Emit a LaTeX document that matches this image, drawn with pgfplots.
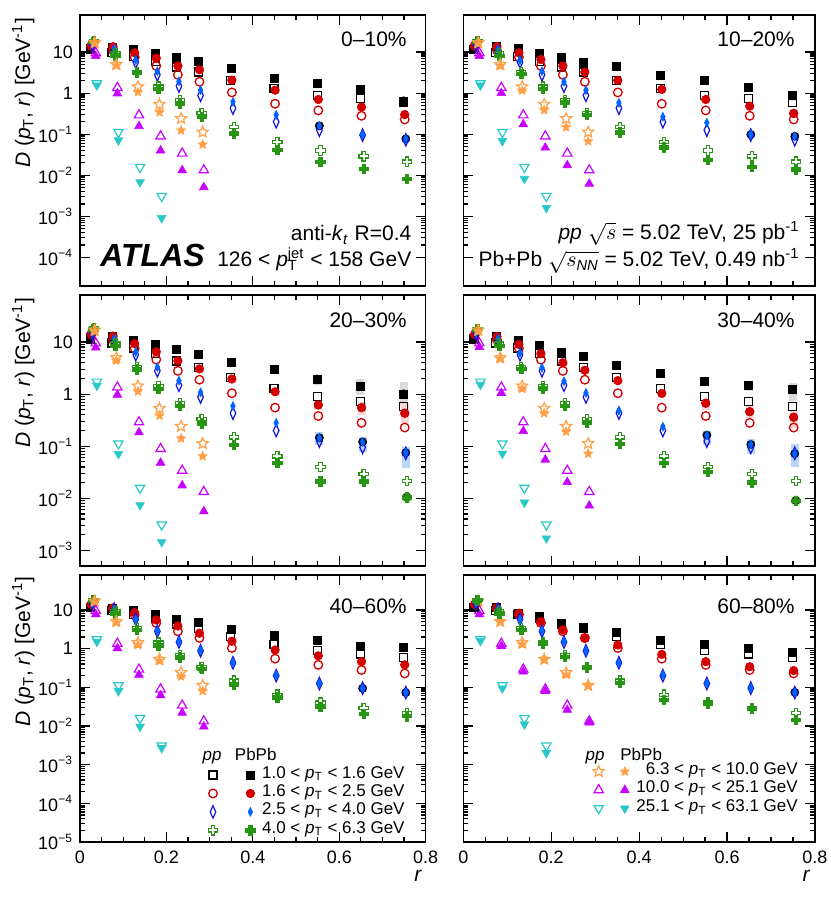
\documentclass[border=0pt]{standalone}
\usepackage{fontspec}
\setmainfont{Liberation Sans}
\usepackage{pgfplots}
\usepackage{pgfplotstable}
\pgfplotsset{compat=1.18}
\pgfplotsset{/pgf/number format/assume math mode=true}

\definecolor{cred}{RGB}{210,0,0}
\definecolor{cblueo}{RGB}{20,20,220}
\definecolor{cbluef}{RGB}{0,100,255}
\definecolor{cgreen}{RGB}{40,150,20}
\definecolor{corange}{RGB}{255,160,70}
\definecolor{cmag}{RGB}{200,0,255}
\definecolor{ccyan}{RGB}{40,200,200}
\definecolor{sgray}{RGB}{218,218,218}
\definecolor{spink}{RGB}{250,212,212}
\definecolor{sblue}{RGB}{182,214,250}
\definecolor{sgreen}{RGB}{214,244,208}

\def\pluspath{%
 \pgfpathmoveto{\pgfqpoint{-0.36\pgfplotmarksize}{\pgfplotmarksize}}%
 \pgfpathlineto{\pgfqpoint{0.36\pgfplotmarksize}{\pgfplotmarksize}}%
 \pgfpathlineto{\pgfqpoint{0.36\pgfplotmarksize}{0.36\pgfplotmarksize}}%
 \pgfpathlineto{\pgfqpoint{\pgfplotmarksize}{0.36\pgfplotmarksize}}%
 \pgfpathlineto{\pgfqpoint{\pgfplotmarksize}{-0.36\pgfplotmarksize}}%
 \pgfpathlineto{\pgfqpoint{0.36\pgfplotmarksize}{-0.36\pgfplotmarksize}}%
 \pgfpathlineto{\pgfqpoint{0.36\pgfplotmarksize}{-\pgfplotmarksize}}%
 \pgfpathlineto{\pgfqpoint{-0.36\pgfplotmarksize}{-\pgfplotmarksize}}%
 \pgfpathlineto{\pgfqpoint{-0.36\pgfplotmarksize}{-0.36\pgfplotmarksize}}%
 \pgfpathlineto{\pgfqpoint{-\pgfplotmarksize}{-0.36\pgfplotmarksize}}%
 \pgfpathlineto{\pgfqpoint{-\pgfplotmarksize}{0.36\pgfplotmarksize}}%
 \pgfpathlineto{\pgfqpoint{-0.36\pgfplotmarksize}{0.36\pgfplotmarksize}}%
 \pgfpathclose}
\def\starpath{%
 \pgfpathmoveto{\pgfqpointpolar{90}{\pgfplotmarksize}}%
 \pgfpathlineto{\pgfqpointpolar{126}{0.45\pgfplotmarksize}}%
 \pgfpathlineto{\pgfqpointpolar{162}{\pgfplotmarksize}}%
 \pgfpathlineto{\pgfqpointpolar{198}{0.45\pgfplotmarksize}}%
 \pgfpathlineto{\pgfqpointpolar{234}{\pgfplotmarksize}}%
 \pgfpathlineto{\pgfqpointpolar{270}{0.45\pgfplotmarksize}}%
 \pgfpathlineto{\pgfqpointpolar{306}{\pgfplotmarksize}}%
 \pgfpathlineto{\pgfqpointpolar{342}{0.45\pgfplotmarksize}}%
 \pgfpathlineto{\pgfqpointpolar{18}{\pgfplotmarksize}}%
 \pgfpathlineto{\pgfqpointpolar{54}{0.45\pgfplotmarksize}}%
 \pgfpathclose}
\pgfdeclareplotmark{plusc}{\pluspath\pgfusepathqstroke}
\pgfdeclareplotmark{plusc*}{\pluspath\pgfusepathqfillstroke}
\pgfdeclareplotmark{starc}{\starpath\pgfusepathqstroke}
\pgfdeclareplotmark{starc*}{\starpath\pgfusepathqfillstroke}

\pgfplotsset{
 mypp1/.style={only marks, mark=square, black, mark size=2.0pt, line width=0.65pt},
 mypb1/.style={only marks, mark=square*, black, mark size=2.0pt, line width=0.3pt},
 mypp2/.style={only marks, mark=o, cred, mark size=2.15pt, line width=0.65pt},
 mypb2/.style={only marks, mark=*, cred, mark size=2.15pt, line width=0.3pt},
 mypp3/.style={only marks, mark=diamond, cblueo, mark size=3.1pt, line width=0.6pt, mark options={xscale=0.6}},
 mypb3/.style={only marks, mark=diamond*, cbluef, mark size=2.2pt, line width=0.3pt, mark options={xscale=0.7}},
 mypp4/.style={only marks, mark=plusc, cgreen, mark size=2.35pt, line width=0.6pt},
 mypb4/.style={only marks, mark=plusc*, cgreen, mark size=2.35pt, line width=0.3pt},
 mypp5/.style={only marks, mark=starc, corange, mark size=2.9pt, line width=0.6pt},
 mypb5/.style={only marks, mark=starc*, corange, mark size=2.4pt, line width=0.3pt},
 mypp6/.style={only marks, mark=triangle, cmag, mark size=2.7pt, line width=0.6pt},
 mypb6/.style={only marks, mark=triangle*, cmag, mark size=2.5pt, line width=0.3pt},
 mypp7/.style={only marks, mark=triangle, ccyan, mark size=2.7pt, line width=0.6pt, mark options={rotate=180}},
 mypb7/.style={only marks, mark=triangle*, ccyan, mark size=2.5pt, line width=0.3pt, mark options={rotate=180}},
 sysbox/.style={forget plot, only marks, mark=none,
  error bars/.cd, y dir=both, y explicit, error mark=none,
  error bar style={draw=#1, line width=4pt, solid}},
}

% pp reference (same in every panel)
\pgfplotstableread{
r     k1    k2    k3    k4     k5    k6     k7
0.025 11.5  14    14.5  17.5   17    9.5    1.72
0.075 9.6   11    10.5  9.3    5.0   1.35   0.112
0.125 7.7   7.5   5.7   3.3    1.43  0.29   0.0158
0.175 6.0   4.6   2.8   1.43   0.53  0.089  0.0031
0.225 4.3   2.8   1.48  0.67   0.24  0.034  nan
0.275 3.25  1.89  0.88  0.33   0.112 0.0133 nan
0.35  2.07  1.04  0.43  0.148  nan   nan    nan
0.45  1.28  0.55  0.20  0.064  nan   nan    nan
0.55  0.89  0.38  0.125 0.040  nan   nan    nan
0.65  0.73  0.28  0.095 0.029  nan   nan    nan
0.75  0.58  0.228 0.073 0.0214 nan   nan    nan
}\pptab
% Pb+Pb 0-10%
\pgfplotstableread{
r     k1    k2    k3    k4     k5    k6     k7
0.025 12.5  15    15.5  18.5   16    8.0    1.54
0.075 13.2  13.5  12    8.3    4.7   0.98   0.071
0.125 11.6  9.6   6.4   3.1    1.06  0.157  0.0068
0.175 9.3   7.1   3.4   1.28   0.34  0.040  0.00091
0.225 7.3   4.6   1.93  0.56   0.123 0.0132 nan
0.275 5.9   3.7   1.18  0.265  0.056 0.0051 nan
0.35  4.1   2.07  0.615 0.104  nan   nan    nan
0.45  2.28  1.18  0.295 0.041  nan   nan    nan
0.55  1.72  0.70  0.16  0.021  nan   nan    nan
0.65  1.23  0.456 0.097 0.0145 nan   nan    nan
0.75  0.65  0.30  0.077 0.0081 nan   nan    nan
}\tabA
% Pb+Pb 10-20%
\pgfplotstableread{
r     k1    k2    k3    k4     k5    k6     k7
0.025 12.5  15    15.5  18.5   16    8.0    1.54
0.075 13.5  13.5  11.6  8.0    4.6   1.0    0.068
0.125 12.1  9.6   6.3   3.0    1.16  0.174  0.0082
0.175 9.6   6.6   3.4   1.28   0.385 0.047  0.0016
0.225 7.4   4.6   1.89  0.60   0.148 0.0174 nan
0.275 5.5   3.25  1.18  0.30   0.067 0.0062 nan
0.35  4.4   2.04  0.58  0.11   nan   nan    nan
0.45  2.7   1.23  0.265 0.048  nan   nan    nan
0.55  2.07  0.70  0.19  0.024  nan   nan    nan
0.65  1.37  0.48  0.098 0.0158 nan   nan    nan
0.75  0.88  0.32  0.089 0.0138 nan   nan    nan
}\tabB
% Pb+Pb 20-30%
\pgfplotstableread{
r     k1    k2    k3    k4     k5    k6     k7
0.025 12.5  15    15.5  18.5   16    7.8    1.45
0.075 13    13    11.6  8.4    4.4   0.97   0.071
0.125 11    9.3   6.4   3.0    1.13  0.184  0.0074
0.175 8.9   6.5   3.3   1.26   0.386 0.048  0.00144
0.225 7.2   4.35  1.81  0.59   0.141 0.0176 nan
0.275 5.8   3.05  1.08  0.275  0.064 0.0056 nan
0.35  4.1   1.95  0.59  0.107  nan   nan    nan
0.45  2.96  1.11  0.28  0.048  nan   nan    nan
0.55  1.95  0.62  0.145 0.021  nan   nan    nan
0.65  1.41  0.55  0.121 0.021  nan   nan    nan
0.75  1.01  0.43  0.075 0.0105 nan   nan    nan
}\tabC
% Pb+Pb 30-40%
\pgfplotstableread{
r     k1    k2    k3    k4     k5    k6     k7
0.025 12    14.5  15    18     16    8.0    1.51
0.075 12.7  12.7  11.6  8.4    4.75  1.05   0.072
0.125 11    9.0   6.2   3.1    1.27  0.195  0.0083
0.175 8.6   6.0   3.2   1.29   0.43  0.055  0.0017
0.225 6.4   4.0   1.76  0.59   0.19  0.0204 nan
0.275 5.36  2.87  1.05  0.28   0.072 0.0072 nan
0.35  3.64  1.81  0.48  0.11   nan   nan    nan
0.45  2.55  1.03  0.237 0.048  nan   nan    nan
0.55  1.76  0.67  0.163 0.032  nan   nan    nan
0.65  1.45  0.46  0.108 0.0204 nan   nan    nan
0.75  1.21  0.36  0.072 0.009  nan   nan    nan
}\tabD
% Pb+Pb 40-60%
\pgfplotstableread{
r     k1    k2    k3    k4     k5    k6     k7
0.025 12    14    15    18     16    7.7    1.51
0.075 11    11    10.4  8.2    4.7   1.02   0.08
0.125 10    8.5   5.7   3.04   1.24  0.21   0.0096
0.175 7.9   5.5   2.9   1.22   0.48  0.062  0.0027
0.225 5.75  3.85  1.55  0.60   0.19  0.022  nan
0.275 4.7   2.5   0.92  0.30   0.08  0.0096 nan
0.35  3.24  1.55  0.435 0.12   nan   nan    nan
0.45  2.26  0.92  0.21  0.055  nan   nan    nan
0.55  1.64  0.65  0.127 0.0316 nan   nan    nan
0.65  1.17  0.46  0.094 0.0204 nan   nan    nan
0.75  1.08  0.38  0.073 0.018  nan   nan    nan
}\tabE
% Pb+Pb 60-80%
\pgfplotstableread{
r     k1    k2    k3    k4     k5    k6     k7
0.025 12    14    15    18     16    7.7    1.58
0.075 11.5  11    10.4  8.2    4.9   1.17   0.094
0.125 8.2   8.2   5.7   3.04   1.29  0.254  0.011
0.175 6.7   5.0   2.9   1.32   0.51  0.080  0.002
0.225 4.5   3.04  1.58  0.62   0.21  0.026  nan
0.275 3.56  1.85  0.89  0.32   0.108 0.0122 nan
0.35  2.6   1.24  0.42  0.132  nan   nan    nan
0.45  1.61  0.71  0.21  0.047  nan   nan    nan
0.55  1.29  0.46  0.127 0.037  nan   nan    nan
0.65  1.02  0.34  0.094 0.0276 nan   nan    nan
0.75  0.79  0.27  0.074 0.0143 nan   nan    nan
}\tabF

\newcommand\bin[2]{%
 \addplot[mypp#1] table[x expr=\thisrow{r}+0.0025*#1-0.0035, y=k#1]{\pptab};
 \addplot[mypb#1] table[x expr=\thisrow{r}+0.0025*#1-0.0035, y=k#1]{#2};
}
\newcommand\allbins[1]{\bin1{#1}\bin2{#1}\bin3{#1}\bin4{#1}\bin5{#1}\bin6{#1}\bin7{#1}}
\newcommand\allbinsR[1]{\bin5{#1}\bin6{#1}\bin7{#1}\bin1{#1}\bin2{#1}\bin3{#1}\bin4{#1}}

\newcommand\lbl{\fontsize{10.5}{12}\selectfont}
\newcommand\lgf{\fontsize{8.5}{10}\selectfont}
\newcommand\ylab{\textit{D} (\textit{p}\textsubscript{T}, \textit{r}) [GeV\textsuperscript{-1}]}
\newcommand\pT{\textit{p}\textsubscript{T}}

\pgfplotsset{
 mypanel/.style={
  scale only axis, xmin=0, xmax=0.8, ymax=80,
  xtick={0,0.2,0.4,0.6,0.8}, minor x tick num=3,
  xtick pos=both, ytick pos=both,
  major tick length=5pt, minor tick length=2.5pt,
  tick style={black, line width=0.6pt},
  axis line style={line width=0.8pt},
  ticklabel style={font=\fontsize{9}{10}\selectfont},
  xticklabel style={yshift=-1pt},
  ylabel style={at={(axis description cs:-0.1446,0.99)}, anchor=base east, inner sep=0pt, font=\lbl},
  xlabel style={anchor=base east, inner sep=0pt, font=\lbl},
 },
 myleftw/.style={width=172.85pt},
 myrightw/.style={width=175.85pt},
 mytoprow/.style={height=135.5pt, ymin=2e-5, ytick={1e-4,1e-3,1e-2,1e-1,1,10},
  yticklabels={10\textsuperscript{−4},10\textsuperscript{−3},10\textsuperscript{−2},10\textsuperscript{−1},1,10}, xticklabels={}},
 mymidrow/.style={height=135.5pt, ymin=5e-4, ytick={1e-3,1e-2,1e-1,1,10},
  yticklabels={10\textsuperscript{−3},10\textsuperscript{−2},10\textsuperscript{−1},1,10}, xticklabels={}},
 mybotrow/.style={height=133.5pt, ymin=1e-5, ytick={1e-5,1e-4,1e-3,1e-2,1e-1,1,10},
  yticklabels={10\textsuperscript{−5},10\textsuperscript{−4},10\textsuperscript{−3},10\textsuperscript{−2},10\textsuperscript{−1},1,10}},
 mynoy/.style={yticklabels={}},
}

\begin{document}
\begin{tikzpicture}
\path[use as bounding box] (0,0) rectangle (415pt,-455pt);

% 0-10%
\begin{semilogyaxis}[mypanel, myleftw, mytoprow, at={(40pt,-7.5pt)}, anchor=north west, ylabel={\ylab}]
\addplot[sysbox=sgray] coordinates {(0.749,0.65) += (0,0.13) -= (0,0.15)};
\addplot[sysbox=sblue] coordinates {(0.554,0.16) += (0,0.03) -= (0,0.03) (0.754,0.077) += (0,0.012) -= (0,0.012)};
\allbins{\tabA}
\node[anchor=base east, inner sep=0pt, font=\lbl] at (rel axis cs:0.946,0.883) {0–10\%};
\node[anchor=base east, inner sep=0pt, font=\lbl] at (rel axis cs:0.9595,0.167) {anti-\textit{k}\textsubscript{\textit{t}} R=0.4};
\node[anchor=base east, inner sep=0pt, font=\lbl] at (rel axis cs:0.9595,0.071) {126 < \textit{p}\rlap{\textsubscript{T}}\textsuperscript{jet} < 158 GeV};
\node[anchor=base west, inner sep=0pt, font=\fontsize{16}{18}\selectfont\bfseries\itshape] at (rel axis cs:0.058,0.071) {ATLAS};
\end{semilogyaxis}

% 10-20%
\begin{semilogyaxis}[mypanel, myrightw, mytoprow, mynoy, at={(231.65pt,-7.5pt)}, anchor=north west]
\addplot[sysbox=sgray] coordinates {(0.749,0.88) += (0,0.2) -= (0,0.22)};
\addplot[sysbox=spink] coordinates {(0.7515,0.32) += (0,0.08) -= (0,0.07)};
\addplot[sysbox=sblue] coordinates {(0.654,0.098) += (0,0.012) -= (0,0.012) (0.754,0.089) += (0,0.018) -= (0,0.015)};
\allbins{\tabB}
\node[anchor=base east, inner sep=0pt, font=\lbl] at (rel axis cs:0.943,0.883) {10–20\%};
\node[anchor=base east, inner sep=0pt, font=\lbl] at (rel axis cs:0.957,0.170) {\textit{pp} $\sqrt{s}$ = 5.02 TeV, 25 pb\textsuperscript{-1}};
\node[anchor=base east, inner sep=0pt, font=\lbl] at (rel axis cs:0.957,0.071) {Pb+Pb $\sqrt{s_{\mathit{NN}}}$ = 5.02 TeV, 0.49 nb\textsuperscript{-1}};
\end{semilogyaxis}

% 20-30%
\begin{semilogyaxis}[mypanel, myleftw, mymidrow, at={(40pt,-147.5pt)}, anchor=north west, ylabel={\ylab}]
\addplot[sysbox=sgray] coordinates {(0.549,1.95) += (0,0.42) -= (0,0.48) (0.649,1.41) += (0,0.58) -= (0,0.43) (0.749,1.01) += (0,0.69) -= (0,0.41)};
\addplot[sysbox=spink] coordinates {(0.5515,0.62) += (0,0.15) -= (0,0.12) (0.6515,0.55) += (0,0.17) -= (0,0.15) (0.7515,0.43) += (0,0.25) -= (0,0.15)};
\addplot[sysbox=sblue] coordinates {(0.554,0.145) += (0,0.045) -= (0,0.04) (0.654,0.121) += (0,0.029) -= (0,0.043) (0.754,0.075) += (0,0.023) -= (0,0.037)};
\addplot[sysbox=sgreen] coordinates {(0.7565,0.0105) += (0,0.0025) -= (0,0.0025)};
\allbins{\tabC}
\node[anchor=base east, inner sep=0pt, font=\lbl] at (rel axis cs:0.946,0.879) {20–30\%};
\end{semilogyaxis}

% 30-40%
\begin{semilogyaxis}[mypanel, myrightw, mymidrow, mynoy, at={(231.65pt,-147.5pt)}, anchor=north west]
\addplot[sysbox=sgray] coordinates {(0.649,1.45) += (0,0.31) -= (0,0.32) (0.749,1.21) += (0,0.43) -= (0,0.47)};
\addplot[sysbox=spink] coordinates {(0.5515,0.67) += (0,0.10) -= (0,0.17) (0.6515,0.46) += (0,0.16) -= (0,0.11) (0.7515,0.36) += (0,0.14) -= (0,0.14)};
\addplot[sysbox=sblue] coordinates {(0.554,0.163) += (0,0.037) -= (0,0.058) (0.654,0.108) += (0,0.032) -= (0,0.036) (0.754,0.072) += (0,0.036) -= (0,0.032)};
\addplot[sysbox=sgreen] coordinates {(0.7565,0.009) += (0,0.002) -= (0,0.0018)};
\allbins{\tabD}
\node[anchor=base east, inner sep=0pt, font=\lbl] at (rel axis cs:0.943,0.879) {30–40\%};
\end{semilogyaxis}

% 40-60%
\begin{semilogyaxis}[mypanel, myleftw, mybotrow, at={(40pt,-287.5pt)}, anchor=north west,
 ylabel={\ylab}, ylabel style={at={(axis description cs:-0.1446,0.995)}},
 xlabel={\textit{r}}, xlabel style={at={(axis description cs:0.991,-0.149)}},
 legend columns=2, legend cell align=right,
 legend image code/.code={\draw[mark repeat=2,mark phase=2,#1] plot coordinates {(0pt,0pt) (3pt,0pt) (6pt,0pt)};},
 legend style={draw=none, fill=none, inner sep=0pt, font=\lgf,
   nodes={inner sep=0.5pt, text height=5.6pt, text depth=2.6pt}, row sep=0pt,
   at={(0.943,0.008)}, anchor=south east,
   /tikz/every even column/.append style={column sep=13pt}}]
\addplot[sysbox=sgray] coordinates {(0.749,1.08) += (0,0.15) -= (0,0.15)};
\addplot[sysbox=sblue] coordinates {(0.654,0.094) += (0,0.015) -= (0,0.015) (0.754,0.073) += (0,0.012) -= (0,0.012)};
\allbins{\tabE}
\legend{\mbox{},\hspace{3pt}1.0 < \pT{} < 1.6 GeV,\mbox{},\hspace{3pt}1.6 < \pT{} < 2.5 GeV,\mbox{},\hspace{3pt}2.5 < \pT{} < 4.0 GeV,\mbox{},\hspace{3pt}4.0 < \pT{} < 6.3 GeV}
\node[anchor=base east, inner sep=0pt, font=\lbl] at (rel axis cs:0.946,0.857) {40–60\%};
\node[anchor=base, inner sep=0pt, font=\lgf] at (rel axis cs:0.382,0.307) {\textit{pp}};
\node[anchor=base west, inner sep=0pt, font=\lgf] at (rel axis cs:0.447,0.307) {PbPb};
\end{semilogyaxis}

% 60-80%
\begin{semilogyaxis}[mypanel, myrightw, mybotrow, mynoy, at={(231.65pt,-287.5pt)}, anchor=north west,
 xlabel={\textit{r}}, xlabel style={at={(axis description cs:0.988,-0.149)}},
 legend columns=2, legend cell align=right,
 legend image code/.code={\draw[mark repeat=2,mark phase=2,#1] plot coordinates {(0pt,0pt) (3pt,0pt) (6pt,0pt)};},
 legend style={draw=none, fill=none, inner sep=0pt, font=\lgf,
   nodes={inner sep=0.5pt, text height=5.6pt, text depth=2.6pt}, row sep=0pt,
   at={(0.955,0.09)}, anchor=south east,
   /tikz/every even column/.append style={column sep=7pt}}]
\addplot[sysbox=sblue] coordinates {(0.754,0.074) += (0,0.008) -= (0,0.008)};
\allbinsR{\tabF}
\legend{\mbox{},\hspace{3pt}6.3 < \pT{} < 10.0 GeV,\mbox{},\hspace{3pt}10.0 < \pT{} < 25.1 GeV,\mbox{},\hspace{3pt}25.1 < \pT{} < 63.1 GeV}
\node[anchor=base east, inner sep=0pt, font=\lbl] at (rel axis cs:0.943,0.857) {60–80\%};
\node[anchor=base, inner sep=0pt, font=\lgf] at (rel axis cs:0.3745,0.307) {\textit{pp}};
\node[anchor=base west, inner sep=0pt, font=\lgf] at (rel axis cs:0.4455,0.307) {PbPb};
\end{semilogyaxis}
\end{tikzpicture}
\end{document}
